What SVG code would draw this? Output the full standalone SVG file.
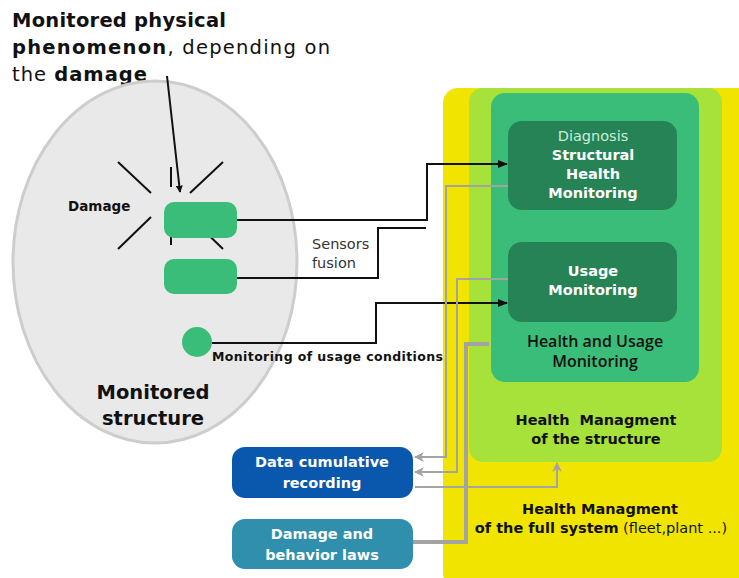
<svg xmlns="http://www.w3.org/2000/svg" width="739" height="578" viewBox="0 0 739 578">
<defs>
<style>
text{font-family:"DejaVu Sans","Open Sans",sans-serif}
.b{font-weight:700}
.sb{font-family:"Open Sans","DejaVu Sans",sans-serif;font-weight:600}
.k{stroke:#111;stroke-width:2;fill:none}
.g{stroke:#a3a3a3;stroke-width:2;fill:none}
.w{fill:#fff;font-weight:700;font-size:14.5px;text-anchor:middle}
.c{text-anchor:middle}
</style>
<marker id="ak" viewBox="0 0 10 10" refX="9" refY="5" markerWidth="7" markerHeight="7" markerUnits="userSpaceOnUse" orient="auto"><path d="M0,0 L10,5 L0,10 z" fill="#111"/></marker>
<marker id="ak2" viewBox="0 0 10 10" refX="9" refY="5" markerWidth="12" markerHeight="10" markerUnits="userSpaceOnUse" orient="auto"><path d="M0,1 L10,5 L0,9 z" fill="#111"/></marker>
<marker id="ag" viewBox="0 0 10 10" refX="9" refY="5" markerWidth="10" markerHeight="10" markerUnits="userSpaceOnUse" orient="auto"><path d="M0,0 L10,5 L0,10 L3,5 z" fill="#a3a3a3"/></marker>
</defs>
<rect width="739" height="578" fill="#fff"/>

<g id="title">
<text x="12" y="27" font-size="19.5" class="b" fill="#111" textLength="214">Monitored physical</text>
<text x="12" y="54" font-size="19.5" fill="#111" textLength="318"><tspan class="b">phenomenon</tspan>, depending on</text>
<text x="12" y="81" font-size="19.5" fill="#111" textLength="135">the <tspan class="b">damage</tspan></text>
</g>

<g id="structure">
<ellipse cx="155" cy="262" rx="142" ry="181" fill="#e9e9e9" stroke="#cdcdcd" stroke-width="3"/>
<text x="153" y="399" font-size="19.5" class="b c" fill="#111">Monitored</text>
<text x="153" y="425" font-size="19.5" class="b c" fill="#111">structure</text>
</g>

<g id="damage">
<g stroke="#111" stroke-width="2">
<line x1="118" y1="162" x2="151" y2="193"/>
<line x1="118" y1="249" x2="151" y2="217"/>
<line x1="223" y1="162" x2="190" y2="193"/>
<line x1="190" y1="217" x2="223" y2="249"/>
<line x1="171" y1="167" x2="171" y2="187"/>
<line x1="171" y1="225" x2="171" y2="245"/>
</g>
<text x="68" y="211" font-size="13.5" class="b" fill="#111">Damage</text>
</g>

<g id="sensor1"><rect x="164" y="202" width="73" height="36" rx="10" fill="#3abd78"/></g>
<g id="sensor2"><rect x="164" y="259" width="73" height="35" rx="10" fill="#3abd78"/></g>
<g id="usage-sensor"><circle cx="197" cy="342" r="15" fill="#3abd78"/>
<text x="212" y="361" font-size="12.5" class="b" fill="#111" textLength="231">Monitoring of usage conditions</text></g>
<g id="fusion-label">
<text x="312" y="249" font-size="14.5" fill="#333">Sensors</text>
<text x="312" y="268" font-size="14.5" fill="#333">fusion</text>
</g>

<g id="full-system">
<rect x="443" y="88" width="320" height="500" rx="15" fill="#f1e500"/>
<text x="600" y="514" font-size="14.5" class="b c" fill="#111">Health Managment</text>
<text x="601" y="533" font-size="14.5" class="c" fill="#111"><tspan class="b">of the full system</tspan> (fleet,plant ...)</text>
</g>
<g id="structure-mgmt">
<rect x="469" y="88" width="253" height="374" rx="14" fill="#a6e23a"/>
<text x="596" y="425" font-size="14.5" class="b c" fill="#111" xml:space="preserve">Health  Managment</text>
<text x="596" y="444" font-size="14.5" class="b c" fill="#111">of the structure</text>
</g>
<g id="hum">
<rect x="491" y="93" width="208" height="289" rx="14" fill="#3abd78"/>
<text x="595" y="347" font-size="16" class="sb c" fill="#111">Health and Usage</text>
<text x="595" y="367" font-size="16" class="sb c" fill="#111">Monitoring</text>
</g>
<g id="shm">
<rect x="508" y="121" width="169" height="89" rx="14" fill="#268356"/>
<text x="593" y="141" font-size="14.5" class="c" fill="#c9ecd6">Diagnosis</text>
<text x="593" y="160" class="w">Structural</text>
<text x="593" y="179" class="w">Health</text>
<text x="593" y="198" class="w">Monitoring</text>
</g>
<g id="usage">
<rect x="508" y="242" width="169" height="80" rx="14" fill="#268356"/>
<text x="593" y="276" class="w">Usage</text>
<text x="593" y="295" class="w">Monitoring</text>
</g>
<g id="recording">
<rect x="232" y="447" width="181" height="51" rx="13" fill="#0a58ad"/>
<text x="322" y="467" class="w">Data cumulative</text>
<text x="322" y="488" class="w">recording</text>
</g>
<g id="laws">
<rect x="232" y="519" width="181" height="50" rx="13" fill="#2f8fad"/>
<text x="322" y="539" class="w">Damage and</text>
<text x="322" y="560" class="w">behavior laws</text>
</g>

<g id="connectors">
<line x1="167" y1="76" x2="180" y2="192" class="k" marker-end="url(#ak)"/>
<path d="M237,220 H427 V164 H507" class="k" marker-end="url(#ak2)"/>
<path d="M237,278 H378 V228 H426" class="k"/>
<path d="M212,343 H376 V303 H507" class="k" marker-end="url(#ak2)"/>
<path d="M508,186 H446 V457 H415" class="g" marker-end="url(#ag)"/>
<path d="M508,279 H457 V472 H415" class="g" marker-end="url(#ag)"/>
<path d="M489,344 H466 V542 H413" stroke="#a3a3a3" stroke-width="4" fill="none"/>
<path d="M415,487 H557 V463" class="g" marker-end="url(#ag)"/>
</g>
</svg>
